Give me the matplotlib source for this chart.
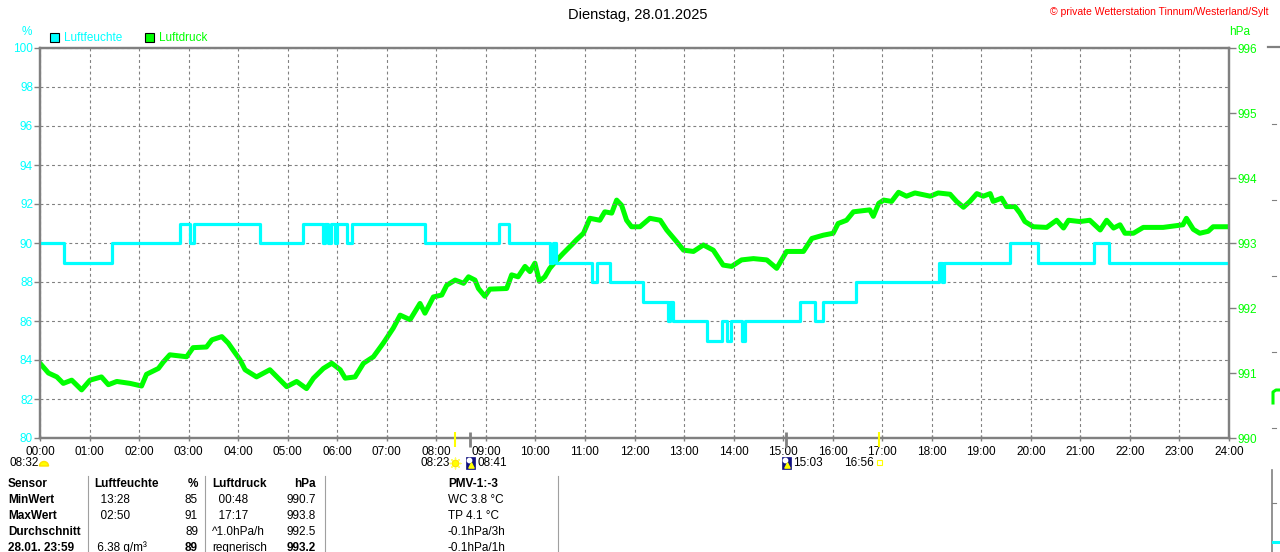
"""
Tagesverlauf Luftfeuchte / Luftdruck - Dienstag 28.01.2025
"""

import matplotlib
matplotlib.use('Agg')
import matplotlib.pyplot as plt
from matplotlib.patches import Rectangle, Wedge

plt.rcParams['font.family'] = ['Liberation Sans', 'DejaVu Sans']

CYAN = '#00ffff'
GREEN = '#00ff00'
GRAY = '#808080'

# Luftfeuchte (%) - Stufenwerte, Zeitpunkte in Stunden
HUM_HOURS = [0.00, 0.48, 1.46, 2.83, 3.03, 3.10, 4.44, 5.31, 5.71, 5.76, 5.82, 5.88,
             5.95, 6.00, 6.20, 6.30, 7.77, 9.27, 9.47, 10.30, 10.36, 10.42, 11.15,
             11.25, 11.50, 12.17, 12.68, 12.72, 12.78, 13.47, 13.77, 13.87, 13.95,
             14.17, 14.23, 15.34, 15.65, 15.80, 16.47, 18.15, 18.20, 18.25, 19.58,
             20.15, 21.28, 21.58, 24.00]
HUM_VALUES = [90, 89, 90, 91, 90, 91, 90, 91, 90, 91, 90, 91,
              90, 91, 90, 91, 90, 91, 90, 89, 90, 89, 88,
              89, 88, 87, 86, 87, 86, 85, 86, 85, 86,
              85, 86, 87, 86, 87, 88, 89, 88, 89, 90,
              89, 90, 89, 89]

# Luftdruck (hPa)
P_HOURS = [0.00, 0.17, 0.34, 0.47, 0.64, 0.84, 1.01, 1.24, 1.38, 1.55, 1.82, 2.05,
           2.15, 2.39, 2.49, 2.62, 2.96, 3.09, 3.36, 3.47, 3.67, 3.80, 3.90, 4.04,
           4.14, 4.37, 4.64, 4.81, 4.98, 5.18, 5.38, 5.52, 5.72, 5.89, 6.06, 6.16,
           6.36, 6.53, 6.73, 6.93, 7.13, 7.27, 7.47, 7.67, 7.77, 7.94, 8.11, 8.21,
           8.38, 8.55, 8.65, 8.78, 8.85, 8.98, 9.08, 9.42, 9.52, 9.65, 9.79, 9.89,
           9.99, 10.08, 10.19, 10.29, 10.40, 10.56, 10.73, 10.83, 10.97, 11.10, 11.30,
           11.40, 11.54, 11.64, 11.74, 11.84, 11.94, 12.11, 12.31, 12.52, 12.65, 12.85,
           12.99, 13.19, 13.39, 13.59, 13.79, 13.96, 14.16, 14.40, 14.67, 14.87, 15.07,
           15.41, 15.58, 15.81, 16.01, 16.11, 16.28, 16.42, 16.75, 16.82, 16.93, 17.03,
           17.19, 17.33, 17.49, 17.66, 17.97, 18.13, 18.37, 18.50, 18.64, 18.77, 18.91,
           19.04, 19.18, 19.24, 19.41, 19.51, 19.68, 19.78, 19.88, 20.05, 20.32, 20.52,
           20.66, 20.76, 20.99, 21.19, 21.40, 21.53, 21.67, 21.80, 21.90, 22.07, 22.27,
           22.67, 23.07, 23.14, 23.28, 23.41, 23.58, 23.68, 24.00]
P_VALUES = [991.15, 991.00, 990.94, 990.84, 990.89, 990.74, 990.89, 990.94, 990.82, 990.87, 990.84, 990.80,
            990.98, 991.07, 991.17, 991.28, 991.25, 991.39, 991.40, 991.51, 991.56, 991.46, 991.35, 991.20,
            991.05, 990.94, 991.05, 990.92, 990.79, 990.87, 990.76, 990.92, 991.07, 991.15, 991.05, 990.92,
            990.94, 991.15, 991.25, 991.46, 991.69, 991.89, 991.82, 992.07, 991.92, 992.17, 992.20, 992.35,
            992.43, 992.38, 992.48, 992.43, 992.30, 992.18, 992.29, 992.30, 992.51, 992.48, 992.64, 992.56,
            992.69, 992.41, 992.48, 992.61, 992.71, 992.84, 992.97, 993.05, 993.15, 993.38, 993.35,
            993.48, 993.46, 993.66, 993.58, 993.35, 993.25, 993.25, 993.38, 993.35, 993.20, 993.02,
            992.89, 992.87, 992.97, 992.89, 992.66, 992.64, 992.74, 992.76, 992.74, 992.61, 992.87,
            992.87, 993.07, 993.12, 993.15, 993.30, 993.35, 993.48, 993.51, 993.41, 993.61, 993.66,
            993.64, 993.78, 993.72, 993.77, 993.72, 993.77, 993.75, 993.64, 993.55, 993.64, 993.76,
            993.72, 993.76, 993.64, 993.69, 993.56, 993.56, 993.46, 993.33, 993.25, 993.24, 993.35,
            993.23, 993.35, 993.33, 993.35, 993.20, 993.35, 993.23, 993.28, 993.15, 993.15, 993.24,
            993.24, 993.28, 993.38, 993.21, 993.15, 993.18, 993.25, 993.25]

X_TICKS = list(range(0, 25))
X_LABELS = [f'{h:02d}:00' for h in X_TICKS]
HUM_TICKS = list(range(80, 101, 2))
P_TICKS = list(range(990, 997))

# Sonnenaufgang / -untergang, Mond
SUNRISE = (8 + 23 / 60, '08:23')
SUNSET = (16 + 56 / 60, '16:56')
MOONRISE = (8 + 41 / 60, '08:41')
MOONSET = (15 + 3 / 60, '15:03')
MOON_LABEL = '08:32'

TABLE_ROWS = [
    ['Sensor', 'Luftfeuchte', '%', 'Luftdruck', 'hPa', 'PMV-1:-3'],
    ['MinWert', '  13:28', '85', '  00:48', '990.7', 'WC 3.8 °C'],
    ['MaxWert', '  02:50', '91', '  17:17', '993.8', 'TP 4.1 °C'],
    ['Durchschnitt', '', '89', '^1.0hPa/h', '992.5', '-0.1hPa/3h'],
    ['28.01. 23:59', ' 6.38 g/m³', '89', 'regnerisch', '993.2', '-0.1hPa/1h'],
]

W, H = 1280, 552
fig = plt.figure(figsize=(W / 100, H / 100), dpi=100)
fig.patch.set_facecolor('white')

ax = fig.add_axes([40 / W, 1 - 438 / H, (1229 - 40) / W, 390 / H])
ax2 = ax.twinx()
ax.set_zorder(ax2.get_zorder() + 1)
ax.patch.set_visible(False)

# Kurven
ax2.plot(P_HOURS, P_VALUES, color=GREEN, lw=3.6, solid_joinstyle='round')
ax.step(HUM_HOURS, HUM_VALUES, where='post', color=CYAN, lw=2.3)

ax.set_xlim(0, 24)
ax.set_ylim(80, 100)
ax2.set_ylim(990, 996)
ax.set_xticks(X_TICKS, X_LABELS)
ax.set_yticks(HUM_TICKS)
ax2.set_yticks(P_TICKS)

ax.grid(True, color=GRAY, ls=(0, (2.6, 2.6)), lw=0.8)
for a in (ax, ax2):
    for s in a.spines.values():
        s.set_color(GRAY)
        s.set_linewidth(1.6)

ax.tick_params(axis='y', colors=GRAY, labelcolor=CYAN, length=4, width=1, pad=1, labelsize=8.5)
ax2.tick_params(axis='y', colors=GRAY, labelcolor=GREEN, length=5, width=1, pad=1, labelsize=8.5)
ax.tick_params(axis='x', colors=GRAY, labelcolor='black', length=4, width=1,
               direction='inout', pad=4, labelsize=8.5)

# Overlay in Pixelkoordinaten fuer Beschriftungen
ov = fig.add_axes([0, 0, 1, 1], zorder=10)
ov.set_xlim(0, W)
ov.set_ylim(H, 0)
ov.axis('off')
ov.patch.set_visible(False)

ov.text(638, 15, 'Dienstag, 28.01.2025', ha='center', va='center', fontsize=10.5)
ov.text(1268, 12, '© private Wetterstation Tinnum/Westerland/Sylt', ha='right',
        va='center', color='red', fontsize=7.5)

ov.text(27, 32, '%', ha='center', va='center', color=CYAN, fontsize=8.5)
ov.text(1240, 32, 'hPa', ha='center', va='center', color=GREEN, fontsize=8.5)
ov.add_patch(Rectangle((50, 33), 9, 9, fc=CYAN, ec='black', lw=0.8))
ov.text(64, 38, 'Luftfeuchte', ha='left', va='center', color=CYAN, fontsize=8.5)
ov.add_patch(Rectangle((145, 33), 9, 9, fc=GREEN, ec='black', lw=0.8))
ov.text(159, 38, 'Luftdruck', ha='left', va='center', color=GREEN, fontsize=8.5)


def hour_px(h):
    return ax.transData.transform((h, 80))[0]


# Sonne und Mond unter der Zeitachse
ov.text(10, 463, MOON_LABEL, ha='left', va='center', fontsize=8.5)
ov.add_patch(Wedge((44, 466), 4.5, 180, 360, fc='#ffff00', ec='#ffe000'))

for h, lab in (SUNRISE, SUNSET):
    px = hour_px(h)
    ov.plot([px, px], [432, 447], color='#ffff00', lw=1.5, solid_capstyle='butt')
for h, lab in (MOONRISE, MOONSET):
    px = hour_px(h)
    ov.plot([px, px], [432, 447], color=GRAY, lw=2, solid_capstyle='butt')

px = hour_px(SUNRISE[0])
ov.text(px - 5, 463, SUNRISE[1], ha='right', va='center', fontsize=8.5)
ov.scatter([px], [463], s=60, marker=(8, 2, 0), color='#ffff60', lw=1)
ov.scatter([px], [463], s=22, marker='o', color='#ffff00', edgecolors='#ffd800', lw=0.6)

for h, lab in (MOONRISE, MOONSET):
    px = hour_px(h)
    ov.add_patch(Rectangle((px - 4, 457), 9, 12, fc='#101080', ec='#101080', lw=0.5))
    ov.scatter([px - 1], [460], s=10, marker='o', color='white')
    ov.scatter([px + 1], [465], s=14, marker='^', color='#ffff00')
    ov.text(px + 7, 463, lab, ha='left', va='center', fontsize=8.5)

px = hour_px(SUNSET[0])
ov.text(px - 5, 463, SUNSET[1], ha='right', va='center', fontsize=8.5)
ov.add_patch(Rectangle((px - 2, 460), 5, 5, fc='white', ec='#ffff00', lw=0.8))

# Tabelle
for x in (88, 205, 325, 558):
    ov.plot([x, x], [476, H], color='#a0a0a0', lw=0.8)

col_x = [8, 94, 198, 212, 316, 448]
col_ha = ['left', 'left', 'right', 'left', 'right', 'left']
for r, row in enumerate(TABLE_ROWS):
    y = 484 + r * 16
    for c, txt in enumerate(row):
        bold = r == 0 or c == 0 or (r == 4 and c in (2, 4))
        ov.text(col_x[c], y, txt, ha=col_ha[c], va='center', fontsize=8.5,
                fontweight='bold' if bold else 'normal')

# angeschnittenes Nachbardiagramm am rechten Rand
ov.plot([1268, W], [47, 47], color=GRAY, lw=1.6)
for y in (124, 200, 276, 352, 428, 503):
    ov.plot([1272, 1276], [y, y], color=GRAY, lw=0.8)
ov.plot([1273, 1273, 1276, W], [403, 392, 390, 390], color=GREEN, lw=2.2)
ov.plot([1272, 1272], [470, H], color=GRAY, lw=1.2)
ov.plot([1273, W], [542, 542], color=CYAN, lw=2.2)

fig.savefig('out.png', dpi=100)
